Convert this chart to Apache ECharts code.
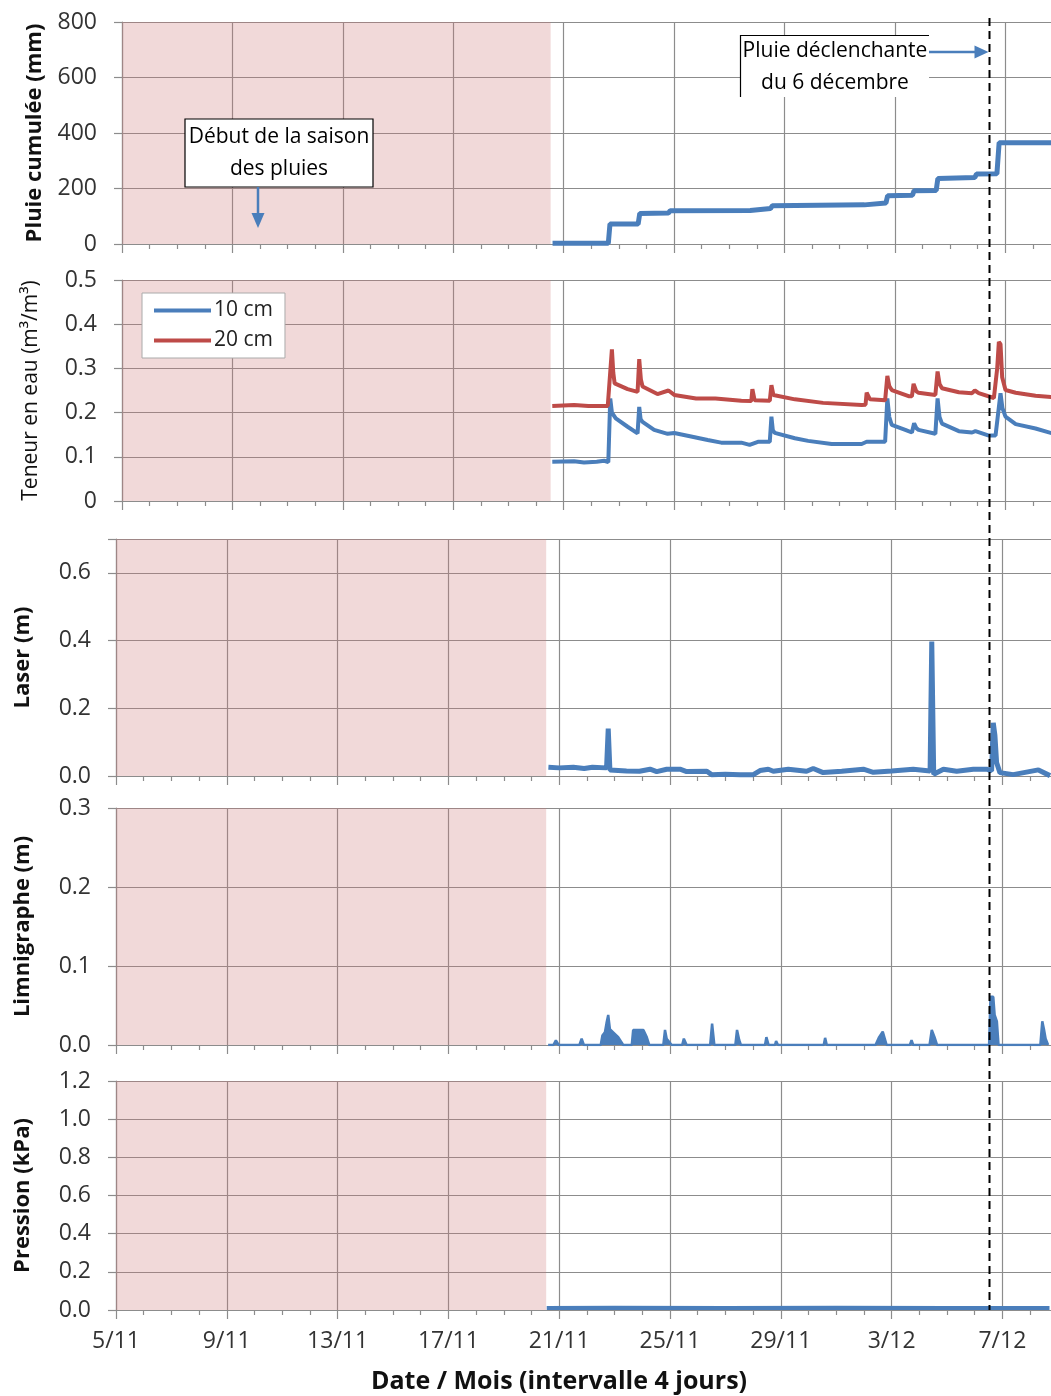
<!DOCTYPE html>
<html><head><meta charset="utf-8">
<script src="https://cdn.jsdelivr.net/npm/echarts@6/dist/echarts.min.js"></script>
<style>html,body{margin:0;padding:0;background:#fff}#c{width:1051px;height:1396px}</style>
</head><body><div id="c"></div>
<script>
// ---------- DATA (x = days since 5/11) ----------
const xTickLabels = ['5/11','9/11','13/11','17/11','21/11','25/11','29/11','3/12','7/12','11/12'];
const dryEnd = 15.53;        // end of shaded dry period
const triggerDay = 31.43;    // triggering rain of 6 December

const rainDay = [15.6, 17.62, 17.68, 18.7, 18.76, 19.8, 19.86, 22.76, 22.82, 23.5, 23.56, 26.9, 26.96, 27.68, 27.74, 28.64, 28.7, 29.5, 29.56, 30.9, 30.96, 31.7, 31.78, 33.7];
const rainMm  = [3, 3, 72, 72, 110, 112, 120, 121, 126, 128, 138, 141, 146, 148, 174, 176, 192, 193, 236, 240, 252, 253, 365, 365];

const m10Day = [15.59,16.38,16.74,17.2,17.47,17.62,17.69,17.75,17.89,18.32,18.68,18.74,18.79,18.86,19.28,19.77,20.01,20.62,21.22,21.71,22.44,22.74,23.04,23.47,23.53,23.58,23.65,24.38,24.86,25.71,26.8,26.98,27.65,27.73,27.8,27.89,28.38,28.62,28.7,28.78,28.86,29.47,29.55,29.62,29.71,30.32,30.8,30.92,31.41,31.65,31.83,31.9,32.01,32.38,33.1,33.71];
const m10Val = [0.089,0.090,0.087,0.089,0.091,0.088,0.232,0.200,0.187,0.168,0.153,0.213,0.185,0.179,0.161,0.152,0.154,0.146,0.138,0.132,0.132,0.127,0.134,0.134,0.191,0.160,0.154,0.142,0.136,0.129,0.129,0.134,0.134,0.232,0.190,0.172,0.161,0.155,0.176,0.165,0.161,0.152,0.232,0.190,0.175,0.158,0.155,0.158,0.148,0.148,0.244,0.210,0.191,0.174,0.164,0.153];

const m20Day = [15.59,16.38,16.9,17.6,17.75,17.8,17.85,18.32,18.68,18.74,18.8,18.86,19.4,19.8,20.01,20.8,21.5,22.44,22.8,22.84,22.92,23.47,23.53,23.6,23.65,24.38,25.4,26.8,26.94,26.98,27.1,27.65,27.73,27.8,27.89,28.5,28.62,28.68,28.78,28.86,29.47,29.55,29.62,29.71,30.32,30.8,30.9,31.04,31.59,31.71,31.77,31.83,31.89,32.01,32.38,33.1,33.71];
const m20Val = [0.215,0.217,0.215,0.215,0.343,0.290,0.266,0.253,0.247,0.321,0.275,0.259,0.242,0.250,0.240,0.232,0.232,0.227,0.226,0.253,0.228,0.227,0.262,0.240,0.238,0.230,0.222,0.217,0.218,0.245,0.230,0.228,0.283,0.260,0.251,0.237,0.237,0.265,0.248,0.245,0.240,0.293,0.265,0.255,0.246,0.244,0.250,0.244,0.233,0.300,0.360,0.355,0.280,0.251,0.245,0.238,0.235];

const laserDay = [15.61,16.0,16.51,16.9,17.2,17.71,17.77,17.83,18.43,18.9,19.28,19.52,19.88,20.36,20.6,21.33,21.5,22.0,22.53,23.01,23.25,23.55,23.73,24.27,24.93,25.17,25.53,26.2,26.98,27.34,28.0,28.78,29.39,29.45,29.52,29.87,30.35,30.95,31.43,31.61,31.67,31.73,31.79,31.91,32.39,33.3,33.72];
const laserVal = [0.026,0.024,0.026,0.022,0.026,0.024,0.140,0.018,0.015,0.014,0.020,0.013,0.020,0.020,0.013,0.014,0.004,0.005,0.004,0.004,0.016,0.020,0.014,0.020,0.014,0.022,0.010,0.014,0.020,0.011,0.015,0.020,0.015,0.397,0.005,0.020,0.014,0.020,0.020,0.015,0.157,0.120,0.040,0.010,0.004,0.018,0.001];

const limniDay = [15.6,15.79,15.88,15.98,16.73,16.81,16.89,17.5,17.56,17.65,17.71,17.77,17.83,17.95,18.13,18.31,18.62,18.67,19.04,19.16,19.25,19.76,19.82,19.88,20.06,20.44,20.5,20.6,21.45,21.52,21.6,22.36,22.42,22.5,22.56,23.43,23.48,23.56,23.79,23.83,23.9,25.55,25.6,25.66,27.42,27.55,27.68,27.82,28.66,28.72,28.78,29.37,29.45,29.55,29.64,30.7,30.77,30.85,31.52,31.57,31.67,31.72,31.8,31.86,33.37,33.44,33.5,33.56,33.65];
const limniVal = [0,0,0.006,0,0,0.008,0,0,0.012,0.016,0.028,0.038,0.020,0.016,0.010,0,0,0.019,0.019,0.010,0,0,0.019,0.008,0,0,0.008,0,0,0.027,0,0,0.019,0.006,0,0,0.010,0,0,0.005,0,0,0.009,0,0,0.010,0.017,0,0,0.006,0,0,0.019,0.010,0,0,0.002,0,0,0.061,0.061,0.038,0.030,0,0,0.030,0.020,0.008,0];

const presDay = [15.55, 18, 22, 26, 30, 33.7];
const presVal = [0.010, 0.012, 0.010, 0.012, 0.011, 0.010];

// ---------- STYLE ----------
const FONT = "'Open Sans', 'DejaVu Sans', sans-serif";
const GRID_COLOR = '#8c8c8c';
const BLUE = '#4a7ebb', RED = '#be4b48';
const zip = (xs, ys) => xs.map((x, i) => [x, ys[i]]);

const grids = [
  {left: 122, top: 22,   width: 36 * 27.6, height: 222},
  {left: 122, top: 280,  width: 36 * 27.6, height: 221},
  {left: 116, top: 539,  width: 36 * 27.7, height: 237},
  {left: 116, top: 808,  width: 36 * 27.7, height: 237},
  {left: 116, top: 1081, width: 36 * 27.7, height: 229}
].map(g => Object.assign(g, {outerBoundsMode: 'none', containLabel: false}));

const xAxes = grids.map((g, i) => ({
  type: 'value', gridIndex: i, min: 0, max: 36, interval: 4,
  axisLine: {show: true, onZero: false, lineStyle: {color: GRID_COLOR, width: 1.2}},
  axisTick: {show: true, length: 9, lineStyle: {color: GRID_COLOR, width: 1.2}},
  minorTick: {show: true, splitNumber: 4, length: 5, lineStyle: {color: GRID_COLOR, width: 1.2}},
  splitLine: {show: true, lineStyle: {color: GRID_COLOR, width: 1.2}},
  axisLabel: {show: i === 4, margin: 20, fontSize: 23, fontFamily: FONT, color: '#333',
    formatter: v => (v % 4 === 0 && xTickLabels[v / 4] !== undefined) ? xTickLabels[v / 4] : ''}
}));

const ySpecs = [
  {min: 0, max: 800, interval: 200, name: 'Pluie cumulée (mm)', bold: true, gap: 76, fmt: v => String(v)},
  {min: 0, max: 0.5, interval: 0.1, name: 'Teneur en eau (m³/m³)', bold: false, gap: 80, fmt: v => String(Math.round(v * 10) / 10)},
  {min: 0, max: 0.7, interval: 0.2, name: 'Laser (m)', bold: true, gap: 82, fmt: v => v > 0.65 ? '' : v.toFixed(1)},
  {min: 0, max: 0.3, interval: 0.1, name: 'Limnigraphe (m)', bold: true, gap: 82, fmt: v => v.toFixed(1)},
  {min: 0, max: 1.2, interval: 0.2, name: 'Pression (kPa)', bold: true, gap: 82, fmt: v => v.toFixed(1)}
];
const yAxes = ySpecs.map((s, i) => ({
  type: 'value', gridIndex: i, min: s.min, max: s.max, interval: s.interval,
  name: s.name, nameLocation: 'middle', nameRotate: 90, nameGap: s.gap,
  nameTextStyle: {fontFamily: FONT, fontSize: s.bold ? 22 : 21, fontWeight: s.bold ? 'bold' : 'normal', color: '#111'},
  axisLine: {show: true, lineStyle: {color: GRID_COLOR, width: 1.2}},
  axisTick: {show: true, length: 8, lineStyle: {color: GRID_COLOR, width: 1.2}},
  splitLine: {show: true, lineStyle: {color: GRID_COLOR, width: 1.2}},
  axisLabel: {margin: 25, fontSize: 23, fontFamily: FONT, color: '#333', formatter: s.fmt}
}));

const dryArea = {
  silent: true,
  itemStyle: {color: 'rgba(205,120,120,0.28)'},
  data: [[{xAxis: 0}, {xAxis: dryEnd}]]
};
const lineBase = {type: 'line', showSymbol: false, symbol: 'none', silent: true, animation: false};

const series = [
  Object.assign({}, lineBase, {name: 'Pluie cumulée', xAxisIndex: 0, yAxisIndex: 0, data: zip(rainDay, rainMm),
    lineStyle: {color: BLUE, width: 5}, itemStyle: {color: BLUE}, markArea: dryArea}),
  Object.assign({}, lineBase, {name: '10 cm', xAxisIndex: 1, yAxisIndex: 1, data: zip(m10Day, m10Val),
    lineStyle: {color: BLUE, width: 4}, itemStyle: {color: BLUE}, markArea: dryArea}),
  Object.assign({}, lineBase, {name: '20 cm', xAxisIndex: 1, yAxisIndex: 1, data: zip(m20Day, m20Val),
    lineStyle: {color: RED, width: 4}, itemStyle: {color: RED}}),
  Object.assign({}, lineBase, {name: 'Laser', xAxisIndex: 2, yAxisIndex: 2, data: zip(laserDay, laserVal),
    lineStyle: {color: BLUE, width: 5}, itemStyle: {color: BLUE}, markArea: dryArea}),
  Object.assign({}, lineBase, {name: 'Limnigraphe', xAxisIndex: 3, yAxisIndex: 3, data: zip(limniDay, limniVal),
    lineStyle: {color: BLUE, width: 2.5}, itemStyle: {color: BLUE}, areaStyle: {color: BLUE, opacity: 1}, markArea: dryArea}),
  Object.assign({}, lineBase, {name: 'Pression', xAxisIndex: 4, yAxisIndex: 4, data: zip(presDay, presVal),
    lineStyle: {color: BLUE, width: 4}, itemStyle: {color: BLUE}, markArea: dryArea})
];

const chart = echarts.init(document.getElementById('c'), null, {renderer: 'canvas'});
chart.setOption({
  animation: false,
  backgroundColor: '#fff',
  grid: grids,
  xAxis: xAxes,
  yAxis: yAxes,
  legend: {
    data: ['10 cm', '20 cm'], orient: 'vertical', left: 142, top: 293,
    icon: 'rect', itemWidth: 57, itemHeight: 4, itemGap: 9,
    padding: [7, 12, 7, 12], backgroundColor: '#fff', borderColor: '#aaa', borderWidth: 1,
    textStyle: {fontFamily: FONT, fontSize: 21, color: '#222', padding: [0, 0, 0, -2]},
    selectedMode: false
  },
  series: series
});

// annotations
const top0 = chart.convertToPixel({gridIndex: 0}, [triggerDay, 800]);
const bot4 = chart.convertToPixel({gridIndex: 4}, [triggerDay, 0]);
const xd = Math.round(top0[0]) + 0.5;
const ANN_FONT = "21px 'Open Sans', sans-serif";
chart.setOption({
  graphic: [
    {type: 'line', z: 100, shape: {x1: xd, y1: top0[1] - 4, x2: xd, y2: bot4[1]},
      style: {stroke: '#000', lineWidth: 2, lineDash: [8, 5]}},
    {type: 'rect', z: 100, shape: {x: 185, y: 119, width: 188, height: 68},
      style: {fill: '#fff', stroke: '#000', lineWidth: 1.2}},
    {type: 'text', z: 101, x: 279, y: 153,
      style: {text: 'Début de la saison\ndes pluies', font: ANN_FONT, fill: '#000', align: 'center', verticalAlign: 'middle', lineHeight: 32}},
    {type: 'line', z: 100, shape: {x1: 258, y1: 187, x2: 258, y2: 215}, style: {stroke: BLUE, lineWidth: 2.5}},
    {type: 'polygon', z: 100, shape: {points: [[251.5, 213], [264.5, 213], [258, 228]]}, style: {fill: BLUE}},
    {type: 'rect', z: 100, shape: {x: 740, y: 35, width: 189, height: 62}, style: {fill: '#fff'}},
    {type: 'polyline', z: 101, shape: {points: [[740.5, 97], [740.5, 35.5], [929, 35.5]]}, style: {stroke: '#000', lineWidth: 1.2, fill: null}},
    {type: 'text', z: 101, x: 835, y: 67,
      style: {text: 'Pluie déclenchante\ndu 6 décembre', font: ANN_FONT, fill: '#000', align: 'center', verticalAlign: 'middle', lineHeight: 32}},
    {type: 'line', z: 100, shape: {x1: 929, y1: 52, x2: xd - 13, y2: 52}, style: {stroke: BLUE, lineWidth: 2.5}},
    {type: 'polygon', z: 100, shape: {points: [[xd - 15, 45.5], [xd - 15, 58.5], [xd - 1, 52]]}, style: {fill: BLUE}},
    {type: 'text', z: 100, x: 559, y: 1382,
      style: {text: 'Date / Mois (intervalle 4 jours)', font: "bold 25px 'Open Sans', sans-serif", fill: '#111', align: 'center', verticalAlign: 'middle'}}
  ]
});
</script>
</body></html>
